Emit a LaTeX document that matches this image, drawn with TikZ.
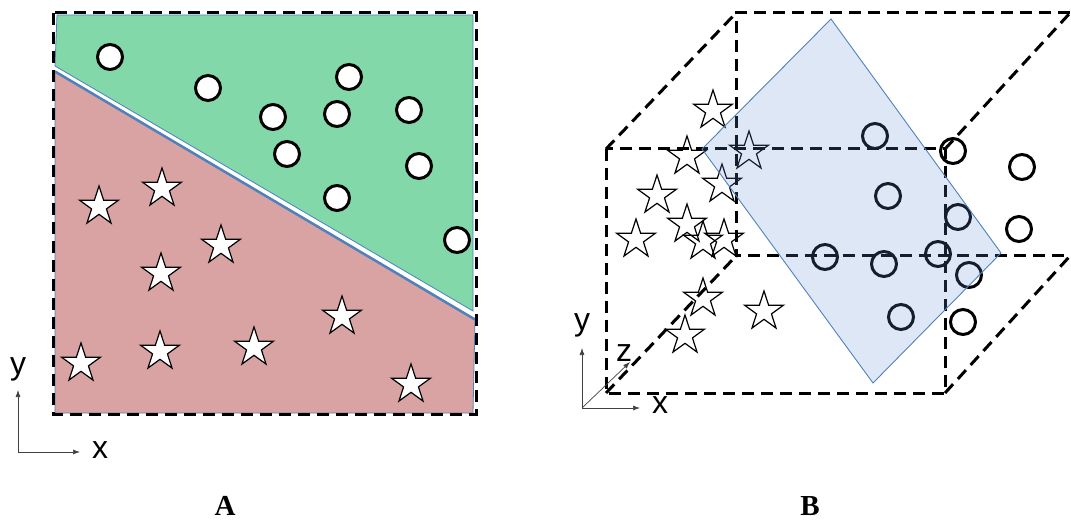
\documentclass[tikz,border=0pt]{standalone}
\usepackage{fontspec}
\setmainfont{Liberation Serif}
\newfontfamily\axisfont{Liberation Sans}
\usetikzlibrary{shapes.geometric,arrows.meta}
\definecolor{regionG}{RGB}{130,216,169}
\definecolor{regionR}{RGB}{217,163,163}
\definecolor{edgeblue}{RGB}{79,129,189}
\definecolor{planeblue}{RGB}{95,144,214}
\begin{document}
\begin{tikzpicture}[x=1pt,y=-1pt,
  boxline/.style={line width=3pt, dash pattern=on 12pt off 7pt},
  ringA/.style={circle, draw=black, line width=3pt, fill=white, minimum size=25pt, inner sep=0pt},
  ringB/.style={circle, draw=black, line width=3pt, minimum size=25pt, inner sep=0pt},
  starA/.style={star, star points=5, star point ratio=2.618, draw=black, line width=1.2pt,
                fill=white, minimum size=41pt, inner sep=0pt},
  starB/.style={star, star points=5, star point ratio=2.618, draw=black, line width=1.2pt,
                minimum size=41pt, inner sep=0pt},
  axisarrow/.style={-{Latex[length=7pt,width=5pt]}, line width=0.7pt, draw=black!75},
  axislabel/.style={font=\axisfont\fontsize{32}{32}\selectfont, inner sep=0pt},
  panellabel/.style={font=\bfseries\fontsize{29}{29}\selectfont, inner sep=0pt}]
\useasboundingbox (0,0) rectangle (1071,521);

% ---------- Panel A: two regions split by a line ----------
\fill[regionG, draw=edgeblue, line width=0.8pt] (57,15) -- (473,15) -- (473,311) -- (55,66) -- cycle;
\fill[regionR, draw=edgeblue, line width=0.8pt] (55,71) -- (475,319) -- (473,413) -- (55,413) -- cycle;
\draw[edgeblue, line width=2.5pt] (55,71.5) -- (475,319.5);
\draw[boxline] (53,13) rectangle (476,414);

\foreach \n/\p in {1/{(110,57)},2/{(208,88)},3/{(349,77)},4/{(273,117)},5/{(337,114)},
                   6/{(409,110)},7/{(287,154)},8/{(419,166)},9/{(337,198)},10/{(457,240)}}
  \node[ringA] (ca\n) at \p {};

\foreach \n/\p in {1/{(99,206.5)},2/{(162,188.5)},3/{(221,245.5)},4/{(161,273.5)},5/{(342,316.5)},
                   6/{(160,351.5)},7/{(254,347.5)},8/{(81,363.5)},9/{(411,384.5)}}
  \node[starA] (sa\n) at \p {};

% axes of panel A
\coordinate (oA) at (18,452);
\coordinate (yA) at (18,390);
\coordinate (xA) at (80,452);
\draw[axisarrow] (oA) -- (yA);
\draw[axisarrow] (oA) -- (xA);
\node[axislabel] (ly1) at (18,369) {y};
\node[axislabel] (lx1) at (100,450) {x};

% ---------- Panel B: points in a box cut by a plane ----------
\foreach \n/\p in {a/{(713,110.5)},b/{(687,156.5)},c/{(749,151.5)},d/{(722,184.5)},e/{(657,195.5)},
                   f/{(687,224.5)},g/{(636,239.5)},h/{(703,241.5)},i/{(724,239.5)},j/{(703,298.5)},
                   k/{(685,335.5)},l/{(764,311.5)}}
  \node[starB] (sb\n) at \p {};

\foreach \n/\p in {1/{(875,136)},2/{(953,151)},3/{(1022,167)},4/{(888,196)},5/{(958,217)},
                   6/{(1019,229)},7/{(825,257)},8/{(884,264)},9/{(938,254)},10/{(969,275)},
                   11/{(901,317)},12/{(963,322)}}
  \node[ringB] (cb\n) at \p {};

% dashed box
\draw[boxline] (606,149) rectangle (945,393);
\draw[boxline] (1070,13) -- (736,13) -- (736,256) -- (1070,256);
\draw[boxline] (606,149) -- (736,13);
\draw[boxline] (945,149) -- (1070,13);
\draw[boxline] (606,393) -- (736,256);
\draw[boxline] (945,393) -- (1070,256);

% separating plane
\fill[planeblue, fill opacity=0.21] (831,19) -- (1001,253) -- (873,383) -- (702,149) -- cycle;
\draw[edgeblue, line width=0.9pt] (831,19) -- (1001,253) -- (873,383) -- (702,149) -- cycle;

% axes of panel B
\coordinate (oB) at (582,408);
\coordinate (yB) at (582,348);
\coordinate (xB) at (640,408);
\coordinate (zB) at (630,362);
\draw[axisarrow] (oB) -- (yB);
\draw[axisarrow] (oB) -- (xB);
\draw[axisarrow] (oB) -- (zB);
\node[axislabel] (ly2) at (582,325) {y};
\node[axislabel] (lz2) at (624,353) {z};
\node[axislabel] (lx2) at (660,405) {x};

% panel captions
\node[panellabel] (capA) at (225,506) {A};
\node[panellabel] (capB) at (810,506) {B};
\end{tikzpicture}
\end{document}
